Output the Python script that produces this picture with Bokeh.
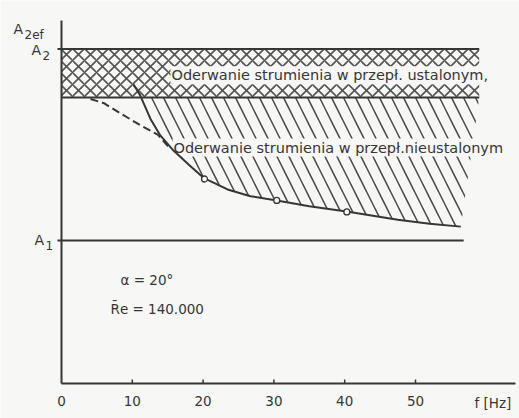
import numpy as np
from bokeh.plotting import figure
from bokeh.models import Range1d
from bokeh.core.properties import value
from bokeh.embed import file_html
from bokeh.resources import INLINE

# --- data -----------------------------------------------------------------
# frequency ticks [Hz]
freq_ticks = [0, 10, 20, 30, 40, 50]
freq_labels = ["0", "10", "20", "30", "40", "50"]

# characteristic amplitude levels (relative units)
A1 = 1.0          # lower reference level
A2 = 2.34         # upper reference level
A_steady = 2.0    # lower edge of the steady-flow separation band
f_band_end = 59.0 # right end of the shaded regions [Hz]

# boundary of flow separation in unsteady flow (solid curve)
curve_f = [10.17, 11.16, 12.57, 13.98, 15.82, 18.22, 20.06, 23.45, 26.7,
           30.4, 35.0, 40.25, 47.5, 52.0, 56.4]
curve_A = [2.093, 2.01, 1.85, 1.733, 1.629, 1.52, 1.438, 1.357, 1.31,
           1.279, 1.24, 1.203, 1.145, 1.117, 1.097]

# measured points
meas_f = [20.2, 30.4, 40.3]
meas_A = [1.43, 1.28, 1.20]

# dashed branch
dash_f = [4.1, 6.0, 8.3, 11.0, 13.6, 15.4]
dash_A = [1.99, 1.96, 1.89, 1.81, 1.74, 1.64]

alpha_text = "\u03b1 = 20\u00b0"
re_text = "R\u0304e = 140.000"
band_text = "Oderwanie strumienia w przep\u0142. ustalonym,"
unsteady_text = "Oderwanie strumienia w przep\u0142.nieustalonym"

# --- styling ----------------------------------------------------------------
INK = "#363636"
BG = "#f7f7f5"
FONT = value("DejaVu Sans")

PX_PER_HZ = 7.08
PX_PER_A = 143.0
W, H = 519, 418
X0, Y0 = 61, 383   # pixel position of the origin

p = figure(width=W, height=H, output_backend="svg", toolbar_location=None,
           x_axis_location=None, y_axis_location=None, min_border=0,
           x_range=Range1d(-X0 / PX_PER_HZ, (W - X0) / PX_PER_HZ),
           y_range=Range1d(-(H - Y0) / PX_PER_A, Y0 / PX_PER_A))
p.outline_line_color = None
p.grid.visible = False
p.background_fill_color = BG
p.border_fill_color = BG

dx = 1 / PX_PER_HZ
dy = 1 / PX_PER_A

# steady-flow separation band (cross hatched)
p.patch([0, f_band_end, f_band_end, 0], [A_steady, A_steady, A2, A2],
        fill_color=None, line_color=None,
        hatch_pattern="diagonal_cross", hatch_scale=12, hatch_weight=1.6,
        hatch_color=INK, hatch_alpha=0.85)

# unsteady-flow separation region (single hatched)
cf = np.array(curve_f)
ca = np.array(curve_A)
f_cross = np.interp(A_steady, ca[::-1], cf[::-1])
below = ca <= A_steady
poly_f = [f_cross] + list(cf[below]) + [f_band_end]
poly_A = [A_steady] + list(ca[below]) + [A_steady]
p.patch(poly_f, poly_A, fill_color=None, line_color=None,
        hatch_pattern="left_diagonal_line", hatch_scale=24, hatch_weight=1.5,
        hatch_color=INK, hatch_alpha=0.9)

# region labels, with a clear background over the hatching
p.text(x=[(170 - X0) * dx], y=[(A2 + A_steady) / 2 - 2 * dy], text=[band_text],
       text_font=FONT, text_font_size="14.5px", text_color=INK,
       text_baseline="middle", text_align="left",
       background_fill_color=BG, padding=1)
p.text(x=[(172 - X0) * dx], y=[1.65], text=[unsteady_text],
       text_font=FONT, text_font_size="14.5px", text_color=INK,
       text_baseline="middle", text_align="left",
       background_fill_color=BG, padding=1)

# level lines
p.line([-4 * dx, f_band_end], [A2, A2], line_color=INK, line_width=2)
p.line([0, f_band_end], [A_steady, A_steady], line_color=INK, line_width=2)
p.line([-4 * dx, 56.8], [A1, A1], line_color=INK, line_width=2)

# curves
p.line(dash_f, dash_A, line_color=INK, line_width=2, line_dash="8 4")
p.line(curve_f, curve_A, line_color=INK, line_width=2, line_join="round")
p.scatter(meas_f, meas_A, marker="circle", size=6, fill_color=BG,
          line_color=INK, line_width=1.3)

# axes
p.line([0, (515 - X0) * dx], [0, 0], line_color=INK, line_width=2)
p.line([0, 0], [0, (Y0 - 20) * dy], line_color=INK, line_width=2)
p.segment(x0=freq_ticks[1:], y0=[0] * 5, x1=freq_ticks[1:], y1=[4 * dy] * 5,
          line_color=INK, line_width=1.5)
p.text(x=freq_ticks, y=[-17 * dy] * len(freq_ticks), text=freq_labels,
       text_font=FONT, text_font_size="13.5px", text_color=INK,
       text_align="center", text_baseline="middle")
p.text(x=[(474 - X0) * dx], y=[-19 * dy], text=["f [Hz]"],
       text_font=FONT, text_font_size="13.5px", text_color=INK,
       text_align="left", text_baseline="middle")

# y-axis level labels
def level_label(x_px, base_px, sub):
    p.text(x=[(x_px - X0) * dx], y=[(Y0 - base_px) * dy], text=["A"],
           text_font=FONT, text_font_size="14px", text_color=INK,
           text_align="left", text_baseline="alphabetic")
    p.text(x=[(x_px + 11 - X0) * dx], y=[(Y0 - base_px - 6) * dy], text=[sub],
           text_font=FONT, text_font_size="12px", text_color=INK,
           text_align="left", text_baseline="alphabetic")

level_label(13, 28, "2ef")
level_label(31, 49, "2")
level_label(34, 239, "1")

# flow parameters
p.text(x=[(120 - X0) * dx], y=[(Y0 - 279) * dy], text=[alpha_text],
       text_font=FONT, text_font_size="13.5px", text_color=INK,
       text_align="left", text_baseline="middle")
p.text(x=[(110 - X0) * dx], y=[(Y0 - 308) * dy], text=[re_text],
       text_font=FONT, text_font_size="13.5px", text_color=INK,
       text_align="left", text_baseline="middle")

open("out.html", "w").write(file_html(p, INLINE))
